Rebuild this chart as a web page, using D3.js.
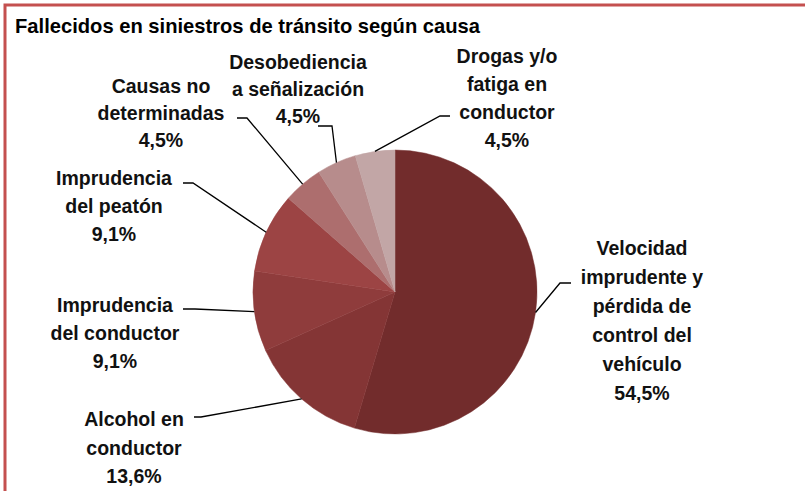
<!DOCTYPE html>
<html>
<head>
<meta charset="utf-8">
<script src="https://cdn.jsdelivr.net/npm/d3@7"></script>
<style>
  body { margin: 0; background: #fff; }
  svg { display: block; }
  .label { font-family: 'Liberation Sans', Arial, sans-serif; font-weight: bold; font-size: 19.5px; fill: #111; }
  .leader { fill: none; stroke: #000; stroke-width: 1.3; }
</style>
</head>
<body>
<div id="container"></div>
<script>
document.addEventListener('DOMContentLoaded', chartIt)

function chartIt() {
  var w = 805
  var h = 491
  var cx = 395
  var cy = 292
  var r = 142

  // label position: center x, first baseline, line step, elbow and stub end of the leader
  const dataset = [
    { causa: 'Velocidad imprudente y pérdida de control del vehículo', valor: 54.5, color: '#722c2c',
      lines: ['Velocidad', 'imprudente y', 'pérdida de', 'control del', 'vehículo'], lx: 642, ly: 255, step: 29, elbow: [560, 283], stub: [571, 283] },
    { causa: 'Alcohol en conductor', valor: 13.6, color: '#843535',
      lines: ['Alcohol en', 'conductor'], lx: 134, ly: 426, step: 28.5, elbow: [201, 417], stub: [194, 417] },
    { causa: 'Imprudencia del conductor', valor: 9.1, color: '#8f3c3c',
      lines: ['Imprudencia', 'del conductor'], lx: 115, ly: 312, step: 28, elbow: [195, 309], stub: [183, 309] },
    { causa: 'Imprudencia del peatón', valor: 9.1, color: '#9c4444',
      lines: ['Imprudencia', 'del peatón'], lx: 114, ly: 185, step: 28, elbow: [193, 183], stub: [183, 183] },
    { causa: 'Causas no determinadas', valor: 4.5, color: '#ad6e6e',
      lines: ['Causas no', 'determinadas'], lx: 161, ly: 93, step: 27, elbow: [247, 118], stub: [237, 118] },
    { causa: 'Desobediencia a señalización', valor: 4.5, color: '#b78c8c',
      lines: ['Desobediencia', 'a señalización'], lx: 298, ly: 69, step: 27, elbow: [332, 126], stub: [318, 126] },
    { causa: 'Drogas y/o fatiga en conductor', valor: 4.5, color: '#c2a6a6',
      lines: ['Drogas y/o', 'fatiga en', 'conductor'], lx: 507, ly: 63, step: 28, elbow: [440, 116], stub: [450, 116] }
  ]

  var svg = d3.select('div#container')
    .append('svg')
    .attr('width', w)
    .attr('height', h)

  // frame (only left and top edges fall inside the picture)
  svg.append('path')
    .attr('d', 'M5,' + h + ' V5 H' + w)
    .attr('fill', 'none')
    .attr('stroke', '#c4504f')
    .attr('stroke-width', 3)

  svg.append('text')
    .attr('x', 15)
    .attr('y', 33)
    .attr('id', 'title')
    .attr('textLength', 465)
    .attr('lengthAdjust', 'spacingAndGlyphs')
    .style('font-family', "'Liberation Sans Narrow', 'Liberation Sans', Arial, sans-serif")
    .style('font-weight', 'bold')
    .style('font-size', '21px')
    .text('Fallecidos en siniestros de tránsito según causa')

  const pie = d3.pie()
    .sort(null)
    .value(d => d.valor)

  const arcs = pie(dataset)

  const arc = d3.arc()
    .innerRadius(0)
    .outerRadius(r)

  const g = svg.append('g')
    .attr('transform', 'translate(' + cx + ',' + cy + ')')

  g.selectAll('.slice')
    .data(arcs)
    .enter().append('path')
    .attr('class', 'slice')
    .attr('d', arc)
    .attr('fill', d => d.data.color)
    .attr('stroke', d => d.data.color)
    .attr('stroke-width', 0.5)

  // leader lines start on the rim at the middle angle of each slice
  const rimPoint = d => {
    const a = (d.startAngle + d.endAngle) / 2
    return [cx + r * Math.sin(a), cy - r * Math.cos(a)]
  }

  svg.selectAll('.leader')
    .data(arcs)
    .enter().append('polyline')
    .attr('class', 'leader')
    .attr('points', d => [rimPoint(d), d.data.elbow, d.data.stub].map(p => p.join(',')).join(' '))

  const fmt = v => v.toFixed(1).replace('.', ',') + '%'

  const labels = svg.selectAll('.label')
    .data(arcs)
    .enter().append('text')
    .attr('class', 'label')
    .attr('text-anchor', 'middle')

  labels.each(function (d) {
    const t = d3.select(this)
    const rows = d.data.lines.concat([fmt(d.data.valor)])
    rows.forEach((s, i) => {
      t.append('tspan')
        .attr('x', d.data.lx)
        .attr('y', d.data.ly + i * d.data.step)
        .text(s)
    })
  })
}
</script>
</body>
</html>
